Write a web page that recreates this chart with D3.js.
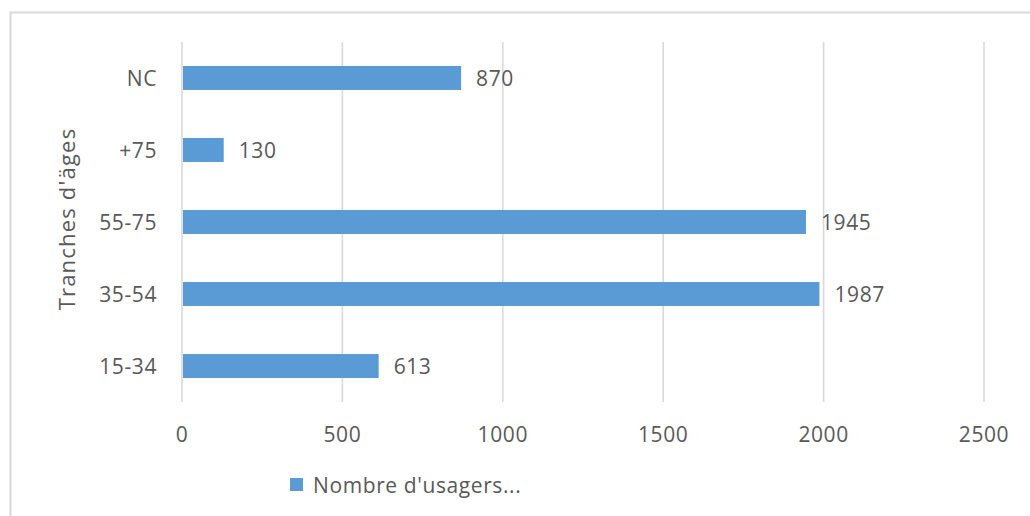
<!DOCTYPE html>
<html>
<head>
<meta charset="utf-8">
<script src="https://cdn.jsdelivr.net/npm/d3@7"></script>
<style>
  html, body { margin: 0; padding: 0; background: #fff; }
  svg { display: block; }
  text { font-family: "Open Sans", sans-serif; fill: #595959; }
</style>
</head>
<body>
<svg id="chart" width="1030" height="516"></svg>
<script>
const categories = ["NC", "+75", "55-75", "35-54", "15-34"];
const values = [870, 130, 1945, 1987, 613];
const xTicks = [0, 500, 1000, 1500, 2000, 2500];
const yTitle = "Tranches d'äges";
const legendLabel = "Nombre d'usagers...";

const svg = d3.select("#chart");
const W = 1030, H = 516;

// chart area border
svg.append("rect")
  .attr("x", 10.5).attr("y", 12.5)
  .attr("width", W).attr("height", H)
  .attr("fill", "#fff")
  .attr("stroke", "#d9d9d9").attr("stroke-width", 2);

const x = d3.scaleLinear().domain([0, 2500]).range([182, 984]);
const y = d3.scaleBand().domain(categories).range([42, 402])
  .paddingInner(0.667).paddingOuter(0.333);

// gridlines
svg.append("g").selectAll("line").data(xTicks).join("line")
  .attr("x1", d => x(d)).attr("x2", d => x(d))
  .attr("y1", 42).attr("y2", 402)
  .attr("stroke", "#d9d9d9").attr("stroke-width", 1.6);

// bars
svg.append("g").selectAll("rect").data(categories).join("rect")
  .attr("x", x(0) + 1)
  .attr("y", d => y(d))
  .attr("width", (d, i) => x(values[i]) - x(0) - 1)
  .attr("height", y.bandwidth())
  .attr("fill", "#5b9bd5");

const fs = 21, ls = "0.6px";

// value labels
svg.append("g").selectAll("text").data(categories).join("text")
  .attr("x", (d, i) => x(values[i]) + 15)
  .attr("y", d => y(d) + y.bandwidth() / 2)
  .attr("dy", "0.36em")
  .attr("font-size", fs).attr("letter-spacing", ls)
  .text((d, i) => values[i]);

// category labels
svg.append("g").selectAll("text").data(categories).join("text")
  .attr("x", 157)
  .attr("y", d => y(d) + y.bandwidth() / 2)
  .attr("dy", "0.36em")
  .attr("text-anchor", "end")
  .attr("font-size", fs).attr("letter-spacing", ls)
  .text(d => d);

// x tick labels
svg.append("g").selectAll("text").data(xTicks).join("text")
  .attr("x", d => x(d))
  .attr("y", 434)
  .attr("dy", "0.36em")
  .attr("text-anchor", "middle")
  .attr("font-size", fs).attr("letter-spacing", ls)
  .text(d => d);

// y title
svg.append("text")
  .attr("transform", "translate(67,219) rotate(-90)")
  .attr("text-anchor", "middle")
  .attr("dy", "0.36em")
  .attr("font-size", 22).attr("letter-spacing", "1.2px")
  .text(yTitle);

// legend
svg.append("rect")
  .attr("x", 290).attr("y", 478)
  .attr("width", 13).attr("height", 13)
  .attr("fill", "#5b9bd5");
svg.append("text")
  .attr("x", 313).attr("y", 485)
  .attr("dy", "0.36em")
  .attr("font-size", fs).attr("letter-spacing", ls)
  .text(legendLabel);
</script>
</body>
</html>
